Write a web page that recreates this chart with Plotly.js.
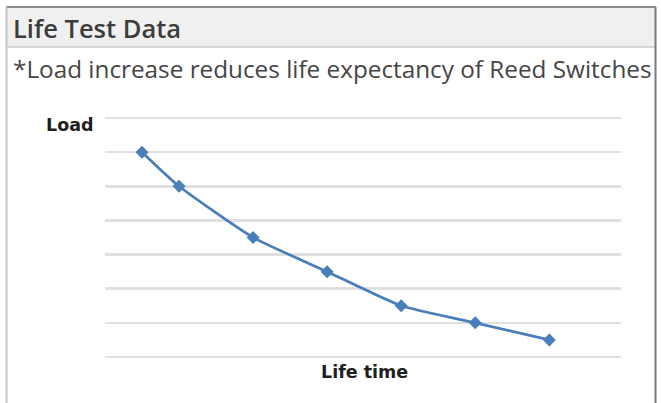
<!DOCTYPE html>
<html>
<head>
<meta charset="utf-8">
<script src="https://cdn.plot.ly/plotly-3.0.1.min.js"></script>
<style>
  html, body { margin: 0; padding: 0; background: #ffffff; }
  #chart { width: 661px; height: 403px; }
</style>
</head>
<body>
<div id="chart"></div>
<script>
// ---- data ----
const lifeTime = [0.5, 1, 2, 3, 4, 5, 6];
const load = [6, 5, 3.5, 2.5, 1.5, 1, 0.5];
const headerText = "Life Test Data";
const noteText = "*Load increase reduces life expectancy of Reed Switches";
const yLabel = "Load";
const xLabel = "Life time";

// ---- layout helpers (pixel -> paper) ----
const W = 661, H = 403;
const px = x => x / W;
const py = y => (H - y) / H;

const unitY = 34.14;
const yPad = 0.1;
const gridTop = 118, gridBottom = 357;

const trace = {
  x: lifeTime,
  y: load,
  type: 'scatter',
  mode: 'lines+markers',
  line: { color: '#4a7ebb', width: 2.75, shape: 'spline', smoothing: 0.5 },
  marker: { symbol: 'diamond', size: 10, color: '#4a7ebb' },
  hoverinfo: 'none'
};

const layout = {
  width: W, height: H,
  margin: { l: 0, r: 0, t: 0, b: 0 },
  paper_bgcolor: '#ffffff',
  plot_bgcolor: 'rgba(0,0,0,0)',
  showlegend: false,
  xaxis: {
    domain: [px(105), px(621)],
    range: [0, 6.968],
    showgrid: false, zeroline: false, showline: false,
    showticklabels: false, ticks: '', fixedrange: true
  },
  yaxis: {
    domain: [py(gridBottom + yPad * unitY), py(gridTop - yPad * unitY)],
    range: [-yPad, 7 + yPad],
    tick0: 0, dtick: 1,
    showgrid: true, gridcolor: '#e0e0e0', gridwidth: 2.5,
    zeroline: false, showline: false,
    showticklabels: false, ticks: '', fixedrange: true
  },
  shapes: [
    // header band
    { type: 'rect', xref: 'paper', yref: 'paper', x0: px(7), x1: px(655), y0: py(47), y1: py(8),
      fillcolor: '#f0f0f0', line: { width: 0 }, layer: 'below' },
    // header separator
    { type: 'line', xref: 'paper', yref: 'paper', x0: px(7), x1: px(655), y0: py(47), y1: py(47),
      line: { color: '#c8c8c8', width: 1.5 } },
    // top border
    { type: 'line', xref: 'paper', yref: 'paper', x0: px(6), x1: px(656), y0: py(7), y1: py(7),
      line: { color: '#8c8c8c', width: 2 } },
    // left border
    { type: 'line', xref: 'paper', yref: 'paper', x0: px(6.5), x1: px(6.5), y0: py(7), y1: py(403),
      line: { color: '#c4c4c4', width: 2 } },
    // right border
    { type: 'line', xref: 'paper', yref: 'paper', x0: px(655.5), x1: px(655.5), y0: py(7), y1: py(403),
      line: { color: '#7c7c7c', width: 2 } }
  ],
  annotations: [
    { text: headerText, xref: 'paper', yref: 'paper', x: px(11), y: py(28),
      xanchor: 'left', yanchor: 'middle', showarrow: false,
      font: { family: 'Open Sans', size: 25.5, color: '#3c3c3c', weight: 600 } },
    { text: noteText, xref: 'paper', yref: 'paper', x: px(11), y: py(69),
      xanchor: 'left', yanchor: 'middle', showarrow: false,
      font: { family: 'Open Sans', size: 24.3, color: '#454545' } },
    { text: '<b>' + yLabel + '</b>', xref: 'paper', yref: 'paper', x: px(44), y: py(125),
      xanchor: 'left', yanchor: 'middle', showarrow: false,
      font: { family: 'DejaVu Sans', size: 17.5, color: '#1e1e1e' } },
    { text: '<b>' + xLabel + '</b>', xref: 'paper', yref: 'paper', x: px(364), y: py(372),
      xanchor: 'center', yanchor: 'middle', showarrow: false,
      font: { family: 'DejaVu Sans', size: 17.5, color: '#1e1e1e' } }
  ]
};

Plotly.newPlot('chart', [trace], layout, { staticPlot: true, displayModeBar: false });
</script>
</body>
</html>
